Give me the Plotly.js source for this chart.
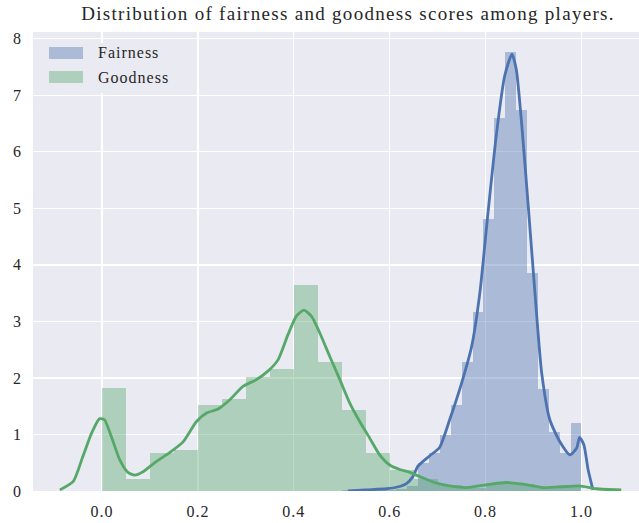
<!DOCTYPE html>
<html>
<head>
<meta charset="utf-8">
<script src="https://cdn.plot.ly/plotly-3.0.1.min.js"></script>
<style>
html,body{margin:0;padding:0;background:#fff;}
.gtitle{letter-spacing:1.3px;}
.annotation-text{letter-spacing:1px;}
.xtick text{letter-spacing:1px;}
</style>
</head>
<body>
<div id="chart" style="width:639px;height:523px;"></div>
<script>
// ---- Data ----
const fairnessBinCenters = [0.5114,0.5341,0.5568,0.5795,0.6023,0.6250,0.6477,0.6705,0.6932,0.7159,0.7386,0.7614,0.7841,0.8068,0.8295,0.8523,0.8750,0.8977,0.9205,0.9432,0.9659,0.9886];
const fairnessDensity   = [0.01,0.01,0.01,0.02,0.02,0.04,0.08,0.49,0.67,0.99,1.52,2.29,3.17,4.82,6.60,7.76,6.74,3.86,1.81,1.05,0.67,1.21];
const fairnessBinWidth = 1/44;

const goodnessBinCenters = [0.025,0.075,0.125,0.175,0.225,0.275,0.325,0.375,0.425,0.475,0.525,0.575,0.625,0.675,0.725,0.775,0.825,0.875,0.925,0.975];
const goodnessDensity    = [1.83,0.22,0.68,0.73,1.52,1.63,2.01,2.16,3.64,2.29,1.44,0.68,0.38,0.22,0.10,0.06,0.14,0.12,0.06,0.10];
const goodnessBinWidth = 0.05;

const fairnessKdeX = [0.513,0.55,0.593,0.621,0.635,0.648,0.659,0.683,0.704,0.725,0.750,0.771,0.788,0.805,0.823,0.840,0.855,0.864,0.875,0.889,0.903,0.917,0.934,0.955,0.976,0.990,0.996,1.005,1.014,1.024];
const fairnessKdeY = [0.0,0.02,0.04,0.08,0.13,0.25,0.44,0.62,0.77,1.26,1.91,2.56,3.50,4.92,6.34,7.35,7.73,7.46,6.52,5.04,3.50,2.09,1.26,0.87,0.64,0.76,0.95,0.82,0.37,0.02];

const goodnessKdeX = [-0.088,-0.060,-0.040,-0.022,-0.005,0.005,0.0195,0.037,0.054,0.068,0.0855,0.113,0.141,0.169,0.197,0.218,0.242,0.266,0.294,0.322,0.346,0.367,0.388,0.405,0.421,0.437,0.454,0.475,0.496,0.517,0.538,0.558,0.579,0.600,0.621,0.642,0.670,0.698,0.725,0.760,0.802,0.844,0.878,0.920,0.969,0.996,1.031,1.083];
const goodnessKdeY = [0.02,0.17,0.61,1.02,1.28,1.26,0.96,0.55,0.33,0.28,0.34,0.52,0.68,0.87,1.23,1.38,1.45,1.61,1.85,1.97,2.12,2.32,2.77,3.09,3.20,3.09,2.80,2.38,1.97,1.55,1.22,0.94,0.64,0.46,0.38,0.33,0.23,0.14,0.09,0.06,0.11,0.15,0.12,0.06,0.08,0.09,0.04,0.02];

const seriesNames = ["Fairness","Goodness"];
const titleText = "Distribution of fairness and goodness scores among players.";

// ---- Styling ----
const blue = "#4C72B0", green = "#55A868";
const fontFam = "Liberation Serif, DejaVu Serif, serif";
const textCol = "#262626";

const traces = [
  {type:"bar", x:fairnessBinCenters, y:fairnessDensity, width:fairnessBinWidth,
   marker:{color:"rgba(76,114,176,0.4)", line:{width:0}}, name:seriesNames[0], showlegend:false, hoverinfo:"skip"},
  {type:"scatter", mode:"lines", x:fairnessKdeX, y:fairnessKdeY,
   line:{color:blue, width:2.8, shape:"spline", smoothing:0.6}, showlegend:false, hoverinfo:"skip"},
  {type:"bar", x:goodnessBinCenters, y:goodnessDensity, width:goodnessBinWidth,
   marker:{color:"rgba(85,168,104,0.4)", line:{width:0}}, name:seriesNames[1], showlegend:false, hoverinfo:"skip"},
  {type:"scatter", mode:"lines", x:goodnessKdeX, y:goodnessKdeY,
   line:{color:green, width:2.8, shape:"spline", smoothing:0.6}, showlegend:false, hoverinfo:"skip"}
];

// plot area in pixels
const L = 33, R = 639, T = 32, B = 491;
const px = v => (v - L) / (R - L);
const py = v => (B - v) / (B - T);

const shapes = [
  {type:"rect", xref:"paper", yref:"paper", x0:px(38), x1:px(180), y0:py(93), y1:py(43),
   fillcolor:"#EAEAF2", line:{width:0}, layer:"above"},
  {type:"rect", xref:"paper", yref:"paper", x0:px(49), x1:px(83), y0:py(59), y1:py(47),
   fillcolor:"rgba(76,114,176,0.4)", line:{width:0}, layer:"above"},
  {type:"rect", xref:"paper", yref:"paper", x0:px(49), x1:px(83), y0:py(83), y1:py(71),
   fillcolor:"rgba(85,168,104,0.4)", line:{width:0}, layer:"above"}
];
const annotations = [
  {xref:"paper", yref:"paper", x:px(96), y:py(53), xanchor:"left", yanchor:"middle", showarrow:false,
   text:seriesNames[0], font:{family:fontFam, size:16, color:textCol}},
  {xref:"paper", yref:"paper", x:px(96), y:py(77), xanchor:"left", yanchor:"middle", showarrow:false,
   text:seriesNames[1], font:{family:fontFam, size:16, color:textCol}}
];

const layout = {
  width:639, height:523,
  margin:{l:L, r:639-R, t:T, b:523-B, pad:0},
  paper_bgcolor:"#ffffff", plot_bgcolor:"#EAEAF2",
  barmode:"overlay", bargap:0,
  showlegend:false,
  title:{text:titleText, font:{family:fontFam, size:19, color:textCol},
         xref:"container", x:348/639, xanchor:"center", yref:"container", y:1-13/523, yanchor:"middle"},
  xaxis:{range:[-0.144,1.12], tick0:0, dtick:0.2, tickformat:".1f",
         showgrid:true, gridcolor:"#ffffff", gridwidth:1.3, zeroline:false, showline:false, ticks:"",
         ticklabelstandoff:9, tickfont:{family:fontFam, size:16, color:textCol}},
  yaxis:{range:[0,8.12], tick0:0, dtick:1,
         showgrid:true, gridcolor:"#ffffff", gridwidth:1.3, zeroline:false, showline:false, ticks:"",
         ticklabelstandoff:11, tickfont:{family:fontFam, size:16, color:textCol}},
  shapes:shapes, annotations:annotations
};

Plotly.newPlot("chart", traces, layout, {staticPlot:true, displayModeBar:false});
</script>
</body>
</html>
